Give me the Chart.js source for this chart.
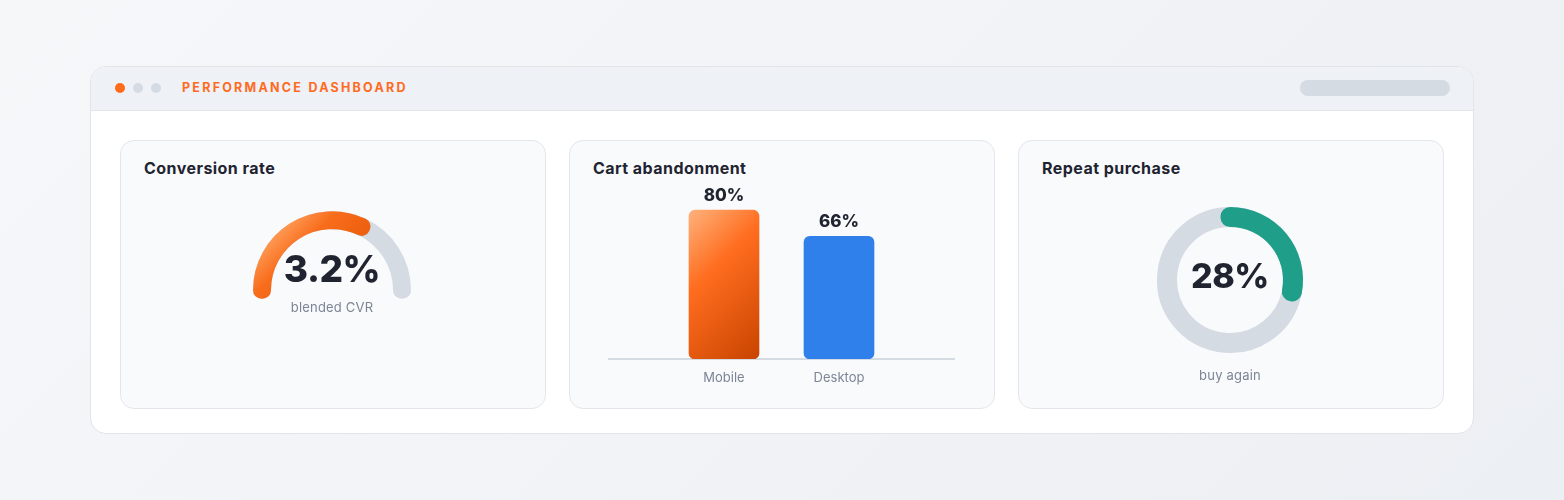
<!DOCTYPE html>
<html><head><meta charset="utf-8">
<script src="https://cdn.jsdelivr.net/npm/chart.js@4.4.1/dist/chart.umd.min.js"></script>
<style>
*{box-sizing:border-box;}
html,body{margin:0;padding:0;}
body{width:1564px;height:500px;position:relative;overflow:hidden;background:linear-gradient(135deg,#f6f7f9 0%,#eceff3 100%);font-family:Inter,"DejaVu Sans",sans-serif;color:#1f2430;}
.panel{position:absolute;left:90px;top:66px;width:1384px;height:368px;background:#fff;border:1px solid #e1e5ea;border-radius:16px;overflow:hidden;}
.head{position:absolute;left:0;top:0;width:100%;height:44px;background:#eef1f5;border-bottom:1px solid #e1e5ea;}
.dot{position:absolute;top:16px;width:10px;height:10px;border-radius:50%;background:#d5dbe3;}
.htitle{position:absolute;left:91px;top:13px;line-height:16px;font-size:12.5px;font-weight:700;letter-spacing:2.25px;color:#ff6b1f;white-space:nowrap;}
.pill{position:absolute;left:1209px;top:13px;width:150px;height:16px;border-radius:8px;background:#d5dbe3;}
.card{position:absolute;top:140px;width:426px;height:269px;background:#f9fafc;border:1.5px solid #e3e6eb;border-radius:14px;}
.ctitle{position:absolute;top:158px;line-height:20px;font-size:16px;font-weight:700;letter-spacing:0.45px;color:#1f2430;white-space:nowrap;}
.big{position:absolute;width:200px;text-align:center;font-weight:800;line-height:44px;color:#1f2430;letter-spacing:-0.5px;}
.sub{position:absolute;width:200px;text-align:center;font-size:13px;line-height:20px;color:#7c8595;letter-spacing:0.2px;}
canvas{position:absolute;}
</style>
</head>
<body>
<div class="panel">
  <div class="head">
    <div class="dot" style="left:24px;background:#ff6b1a"></div>
    <div class="dot" style="left:42px"></div>
    <div class="dot" style="left:60px"></div>
    <div class="htitle">PERFORMANCE DASHBOARD</div>
    <div class="pill"></div>
  </div>
</div>
<div class="card" style="left:120px"></div>
<div class="card" style="left:569px"></div>
<div class="card" style="left:1018px"></div>
<div class="ctitle" style="left:144px">Conversion rate</div>
<div class="ctitle" style="left:593px">Cart abandonment</div>
<div class="ctitle" style="left:1042px">Repeat purchase</div>

<canvas id="gTrack" width="200" height="130" style="left:232px;top:190px"></canvas>
<canvas id="gValue" width="200" height="130" style="left:232px;top:190px"></canvas>
<div class="big" id="gText" style="left:232px;top:247px;font-size:37px"></div>
<div class="sub" id="gSub" style="left:232px;top:297px"></div>

<canvas id="bars" width="365" height="236" style="left:599px;top:163px"></canvas>

<canvas id="dTrack" width="200" height="200" style="left:1130px;top:180px"></canvas>
<canvas id="dValue" width="200" height="200" style="left:1130px;top:180px"></canvas>
<div class="big" id="dText" style="left:1130px;top:254px;font-size:34px"></div>
<div class="sub" id="dSub" style="left:1130px;top:365px"></div>

<script>
// ---- data ----
const gaugeValue = 3.2;      // conversion rate %
const gaugeMax = 5;          // gauge full scale %
const gaugeLabel = 'blended CVR';
const categories = ['Mobile', 'Desktop'];
const abandonment = [80, 66];
const repeatValue = 28;
const repeatTotal = 100;
const repeatLabel = 'buy again';

// ---- styles ----
const TRACK = '#d5dbe3';
const TEAL = '#1f9e89';
const BLUE = '#2f80ea';
Chart.defaults.font.family = 'Inter';

const baseOpts = {
  responsive: false, animation: false, events: [],
  plugins: { legend: { display: false }, tooltip: { enabled: false } }
};

// ---- gauge ----
const G_R = 70.5, G_W = 17;
function gaugeGrad(c) {
  const ch = c.chart, a = ch.chartArea;
  if (!a) return '#ff6b1a';
  const cx = (a.left + a.right) / 2;
  const cy = (a.top + a.bottom) / 2 + G_R / 2;
  const bx = cx, by = cy - 35, half = 87 * 0.7071;
  const g = ch.ctx.createLinearGradient(bx - half, by - half, bx + half, by + half);
  g.addColorStop(0, '#ffb27c');
  g.addColorStop(0.18, '#ff9a55');
  g.addColorStop(0.34, '#f86d1c');
  g.addColorStop(0.5, '#ef6210');
  g.addColorStop(1, '#dd520a');
  return g;
}
const gaugeData = [gaugeValue, gaugeMax - gaugeValue];
new Chart(document.getElementById('gTrack'), {
  type: 'doughnut',
  data: { labels: ['value', 'rest'], datasets: [{ data: gaugeData, backgroundColor: TRACK, borderColor: TRACK, borderWidth: G_W, borderJoinStyle: 'round', borderAlign: 'center' }] },
  options: Object.assign({ rotation: -90, circumference: 180, radius: G_R, cutout: '98.6%' }, baseOpts)
});
new Chart(document.getElementById('gValue'), {
  type: 'doughnut',
  data: { labels: ['value', 'rest'], datasets: [{ data: gaugeData,
    backgroundColor: c => c.dataIndex === 0 ? gaugeGrad(c) : 'rgba(0,0,0,0)',
    borderColor: c => c.dataIndex === 0 ? gaugeGrad(c) : 'rgba(0,0,0,0)',
    borderWidth: [G_W, 0], borderJoinStyle: 'round', borderAlign: 'center' }] },
  options: Object.assign({ rotation: -90, circumference: 180, radius: G_R, cutout: '98.6%' }, baseOpts)
});
document.getElementById('gText').textContent = gaugeValue + '%';
document.getElementById('gSub').textContent = gaugeLabel;

// ---- bars ----
const xLabels = [''].concat(categories, ['']);
const barValues = [null].concat(abandonment, [null]);
const BAR_W = 70;
function barFill(c) {
  if (c.dataIndex === 2) return BLUE;
  const ch = c.chart, xs = ch.scales.x, ys = ch.scales.y;
  if (!ch.chartArea || !xs || !ys || c.raw == null) return '#ff6b1a';
  const x = xs.getPixelForValue(c.dataIndex);
  const top = ys.getPixelForValue(c.raw), bot = ys.getPixelForValue(0);
  const cy = (top + bot) / 2, half = (BAR_W + (bot - top)) * 0.7071 / 2 * 0.7071;
  const g = ch.ctx.createLinearGradient(x - half, cy - half, x + half, cy + half);
  g.addColorStop(0, '#ffb27c');
  g.addColorStop(0.38, '#ff6d1f');
  g.addColorStop(1, '#c84400');
  return g;
}
const barLabels = {
  id: 'barLabels',
  afterDatasetsDraw(chart) {
    const ctx = chart.ctx, meta = chart.getDatasetMeta(0);
    ctx.save();
    ctx.font = '800 17px Inter';
    ctx.fillStyle = '#1f2430';
    ctx.textAlign = 'center';
    ctx.textBaseline = 'alphabetic';
    meta.data.forEach((bar, i) => {
      const v = chart.data.datasets[0].data[i];
      if (v == null) return;
      ctx.fillText(v + '%', bar.x, bar.y - 9);
    });
    ctx.restore();
  }
};
new Chart(document.getElementById('bars'), {
  type: 'bar',
  data: { labels: xLabels, datasets: [{ data: barValues, backgroundColor: barFill, barThickness: BAR_W, borderRadius: 6, borderSkipped: false }] },
  options: Object.assign({
    layout: { padding: { left: 10, right: 10, top: 10, bottom: 0 } },
    scales: {
      x: { offset: false, grid: { display: false }, border: { display: true, color: '#d5dbe3', width: 2 },
           ticks: { color: '#7c8595', font: { size: 13 }, padding: 3, maxRotation: 0, autoSkip: false },
           afterFit: s => { s.height = 40; } },
      y: { display: false, min: 0, max: 100 }
    }
  }, baseOpts),
  plugins: [barLabels]
});

// ---- donut ----
const D_R = 63.5, D_W = 19;
const donutData = [repeatValue, repeatTotal - repeatValue];
new Chart(document.getElementById('dTrack'), {
  type: 'doughnut',
  data: { labels: ['repeat', 'other'], datasets: [{ data: donutData, backgroundColor: TRACK, borderColor: TRACK, borderWidth: D_W, borderJoinStyle: 'round', borderAlign: 'center' }] },
  options: Object.assign({ radius: D_R, cutout: '98.4%' }, baseOpts)
});
new Chart(document.getElementById('dValue'), {
  type: 'doughnut',
  data: { labels: ['repeat', 'other'], datasets: [{ data: donutData,
    backgroundColor: [TEAL, 'rgba(0,0,0,0)'], borderColor: [TEAL, 'rgba(0,0,0,0)'],
    borderWidth: [D_W, 0], borderJoinStyle: 'round', borderAlign: 'center' }] },
  options: Object.assign({ radius: D_R, cutout: '98.4%' }, baseOpts)
});
document.getElementById('dText').textContent = repeatValue + '%';
document.getElementById('dSub').textContent = repeatLabel;
</script>
</body></html>
